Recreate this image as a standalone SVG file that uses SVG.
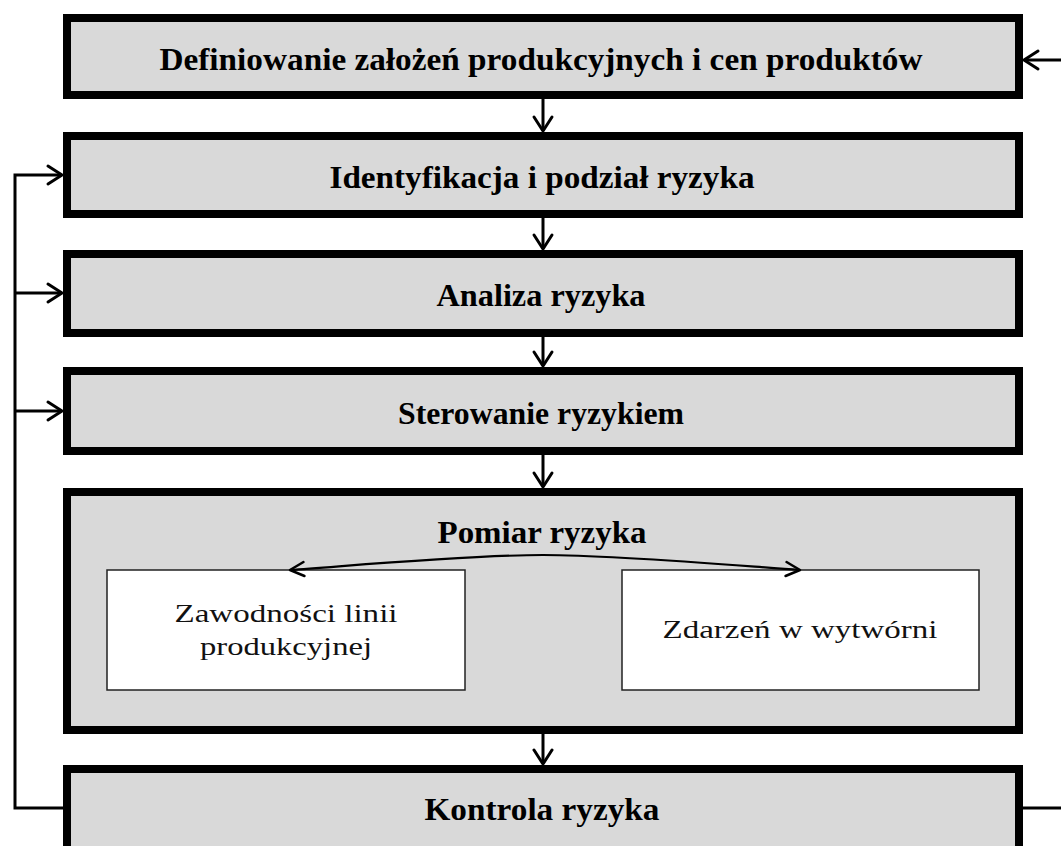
<svg xmlns="http://www.w3.org/2000/svg" width="1061" height="846" viewBox="0 0 1061 846">
<style>
.box{fill:#d9d9d9;stroke:#000;stroke-width:8}
.sub{fill:#fff;stroke:#222;stroke-width:1.5}
.t{font-family:"Liberation Serif","Times New Roman",serif;font-weight:bold;font-size:32px;fill:#000;text-anchor:middle}
.s{font-family:"Liberation Serif","Times New Roman",serif;font-size:25px;fill:#111;text-anchor:middle}
.c{fill:none;stroke:#000;stroke-width:3}
.ci{fill:none;stroke:#000;stroke-width:2.2}
</style>
<defs>
<marker id="arr" markerUnits="userSpaceOnUse" markerWidth="22" markerHeight="24" refX="17" refY="12" orient="auto">
<path d="M3,3 L17,12 L3,21" fill="none" stroke="#000" stroke-width="3" stroke-linecap="round" stroke-linejoin="round"/>
</marker>
<marker id="arrs" markerUnits="userSpaceOnUse" markerWidth="22" markerHeight="22" refX="17" refY="11" orient="auto">
<path d="M3,4 L17,11 L3,18" fill="none" stroke="#000" stroke-width="2.5" stroke-linecap="round" stroke-linejoin="round"/>
</marker>
</defs>

<g id="n1">
<rect class="box" x="67" y="18" width="952" height="77"/>
<text class="t" x="541" y="70" textLength="763" lengthAdjust="spacingAndGlyphs">Definiowanie założeń produkcyjnych i cen produktów</text>
</g>
<g id="n2">
<rect class="box" x="67" y="136" width="952" height="78"/>
<text class="t" x="542" y="188" textLength="425" lengthAdjust="spacingAndGlyphs">Identyfikacja i podział ryzyka</text>
</g>
<g id="n3">
<rect class="box" x="67" y="254" width="952" height="79"/>
<text class="t" x="541" y="306" textLength="209" lengthAdjust="spacingAndGlyphs">Analiza ryzyka</text>
</g>
<g id="n4">
<rect class="box" x="67" y="371" width="952" height="80"/>
<text class="t" x="541" y="424" textLength="286" lengthAdjust="spacingAndGlyphs">Sterowanie ryzykiem</text>
</g>
<g id="n5">
<rect class="box" x="67" y="492" width="952" height="238"/>
<text class="t" x="542" y="543" textLength="209" lengthAdjust="spacingAndGlyphs">Pomiar ryzyka</text>
</g>
<g id="n5a">
<rect class="sub" x="107" y="570" width="358" height="120"/>
<text class="s" x="286" y="622" textLength="223" lengthAdjust="spacingAndGlyphs">Zawodności linii</text>
<text class="s" x="286" y="655" textLength="172" lengthAdjust="spacingAndGlyphs">produkcyjnej</text>
</g>
<g id="n5b">
<rect class="sub" x="622" y="570" width="357" height="120"/>
<text class="s" x="800" y="638" textLength="275" lengthAdjust="spacingAndGlyphs">Zdarzeń w wytwórni</text>
</g>
<g id="n6">
<rect class="box" x="67" y="769" width="952" height="100"/>
<text class="t" x="542" y="820" textLength="235" lengthAdjust="spacingAndGlyphs">Kontrola ryzyka</text>
</g>

<g id="connectors">
<line class="c" x1="543" y1="99" x2="543" y2="131" marker-end="url(#arr)"/>
<line class="c" x1="543" y1="218" x2="543" y2="249" marker-end="url(#arr)"/>
<line class="c" x1="543" y1="337" x2="543" y2="366" marker-end="url(#arr)"/>
<line class="c" x1="543" y1="455" x2="543" y2="487" marker-end="url(#arr)"/>
<line class="c" x1="543" y1="734" x2="543" y2="764" marker-end="url(#arr)"/>
<path class="c" d="M63,808 H15 V175 H62" marker-end="url(#arr)"/>
<path class="c" d="M15,293 H62" marker-end="url(#arr)"/>
<path class="c" d="M15,411 H62" marker-end="url(#arr)"/>
<path class="c" d="M1023,808 H1065" stroke="#222"/>
<path class="c" d="M1066,60 H1024" marker-end="url(#arr)"/>
<path class="ci" d="M543,555 C470,555 360,565 290,570" marker-end="url(#arrs)"/>
<path class="ci" d="M543,555 C616,555 730,565 800,570" marker-end="url(#arrs)"/>
</g>
</svg>
